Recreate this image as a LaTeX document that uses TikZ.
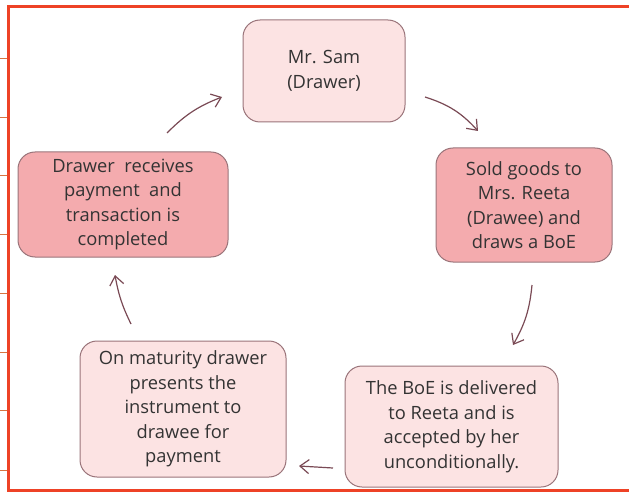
\documentclass[tikz,border=0pt]{standalone}
\usepackage{fontspec}
\setmainfont{Open Sans}
\usepackage{xcolor}
\usetikzlibrary{arrows.meta}
\definecolor{framered}{HTML}{EE4226}
\definecolor{tickorange}{HTML}{D9733F}
\definecolor{boxline}{HTML}{9A747A}
\definecolor{lightpink}{HTML}{FCE3E3}
\definecolor{darkpink}{HTML}{F4ABAE}
\definecolor{arrowcol}{HTML}{7A4A55}
\definecolor{textgray}{HTML}{333333}

\begin{document}
\begin{tikzpicture}[x=1pt, y=-1pt,
	stepbox/.style={draw=boxline, line width=1pt, rectangle, rounded corners=17pt, align=center, text=textgray, font=\fontsize{18.3}{24.5}\selectfont},
	light/.style={stepbox, fill=lightpink},
	dark/.style={stepbox, fill=darkpink},
	flow/.style={-{Straight Barb[length=9pt, width=14pt, line width=1.2pt]}, draw=arrowcol, line width=1.2pt}]
				\useasboundingbox (0,0) rectangle (629,492);
				% frame
				\draw[framered, line width=3pt] (629,6.5) -- (8.5,6.5) -- (8.5,490.5) -- (629,490.5);
				\foreach \y in {58,117,175,234,293,352,410,470}
					\draw[tickorange, line width=0.9pt] (0,\y) -- (7,\y);
				% boxes
				\node[light, minimum width=162pt, minimum height=102pt] (sam)at(324,71) {Mr. Sam\\(Drawer)};
				\node[dark, minimum width=176pt, minimum height=114pt] (sold)at(524,205) {Sold goods to\\Mrs. Reeta\\(Drawee) and\\draws a BoE};
				\node[light, minimum width=213pt, minimum height=121pt] (boe)at(451.5,426.5) {The BoE is delivered\\to Reeta and is\\accepted by her\\unconditionally.};
				\node[light, minimum width=206pt, minimum height=136pt] (mat)at(183,409) {On maturity drawer\\presents the\\instrument to\\drawee for\\payment};
				\node[dark, minimum width=210pt, minimum height=105pt] (recv)at(123,204.5) {Drawer\ \ receives\\payment\ \ and\\transaction is\\completed};
				% arrow ends
				\coordinate (a1)at(425,97);
				\coordinate (b1)at(478,131);
				\coordinate (a2)at(532,285);
				\coordinate (b2)at(513,345);
				\coordinate (a3)at(333,468);
				\coordinate (b3)at(299,466);
				\coordinate (a4)at(131,324);
				\coordinate (b4)at(115,275);
				\coordinate (a5)at(167,133);
				\coordinate (b5)at(222,97);
				\draw[flow] (a1) to[bend left=15] (b1);
				\draw[flow] (a2) to[bend left=12] (b2);
				\draw[flow] (a3) to (b3);
				\draw[flow] (a4) to[bend left=8] (b4);
				\draw[flow] (a5) to[bend left=12] (b5);
			\end{tikzpicture}
\end{document}
